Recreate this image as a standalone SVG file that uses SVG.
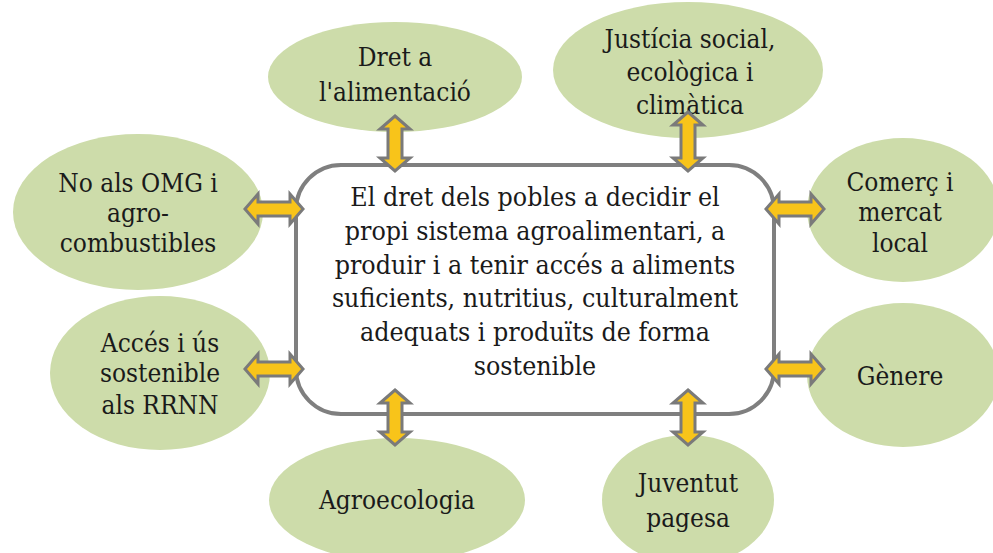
<svg xmlns="http://www.w3.org/2000/svg" width="993" height="553" viewBox="0 0 993 553">
<style>
.el{fill:#cddcaa;stroke:none}
.ctr{fill:#ffffff;stroke:#7f7f7f;stroke-width:4}
.ar{fill:#f8c41a;stroke:#7a7a7a;stroke-width:3;stroke-linejoin:miter}
.tx{fill:#1a1a1a;text-anchor:middle}
.t{font-size:26px}
.c{font-size:26.5px}
</style>
<rect width="993" height="553" fill="#ffffff"/>
<g font-family="'DejaVu Serif Condensed', 'DejaVu Serif', serif" font-stretch="condensed" class="tx">
<g id="n-dret"><ellipse class="el" cx="395" cy="77" rx="127" ry="55"/><text class="t" x="395" y="66">Dret a</text><text class="t" x="395" y="101">l'alimentació</text></g>
<g id="n-justicia"><ellipse class="el" cx="688" cy="70" rx="135" ry="68"/><text class="t" x="690" y="48">Justícia social,</text><text class="t" x="690" y="81">ecològica i</text><text class="t" x="690" y="114">climàtica</text></g>
<g id="n-omg"><ellipse class="el" cx="138" cy="212" rx="125" ry="78"/><text class="t" x="138" y="192">No als OMG i</text><text class="t" x="138" y="222">agro-</text><text class="t" x="138" y="252">combustibles</text></g>
<g id="n-comerc"><ellipse class="el" cx="903" cy="210" rx="96" ry="72"/><text class="t" x="900" y="191">Comerç i</text><text class="t" x="900" y="221">mercat</text><text class="t" x="900" y="252">local</text></g>
<g id="n-acces"><ellipse class="el" cx="160" cy="373" rx="110" ry="77"/><text class="t" x="160" y="352">Accés i ús</text><text class="t" x="160" y="382">sostenible</text><text class="t" x="160" y="414">als RRNN</text></g>
<g id="n-genere"><ellipse class="el" cx="903" cy="375" rx="96" ry="72"/><text class="t" x="900" y="385">Gènere</text></g>
<g id="n-agro"><ellipse class="el" cx="397" cy="500" rx="128" ry="62"/><text class="t" x="397" y="509">Agroecologia</text></g>
<g id="n-juventut"><ellipse class="el" cx="688" cy="500" rx="86" ry="65"/><text class="t" x="688" y="492">Juventut</text><text class="t" x="688" y="527">pagesa</text></g>
<g id="n-centre"><rect class="ctr" x="296" y="165" width="478" height="249" rx="45" ry="45"/>
<text class="c" x="535" y="206">El dret dels pobles a decidir el</text>
<text class="c" x="535" y="240">propi sistema agroalimentari, a</text>
<text class="c" x="535" y="274">produir i a tenir accés a aliments</text>
<text class="c" x="535" y="307">suficients, nutritius, culturalment</text>
<text class="c" x="535" y="341">adequats i produïts de forma</text>
<text class="c" x="535" y="375">sostenible</text>
</g>
</g>
<g id="connectors">
<polygon class="ar" points="395,116 410,129 402,129 402,158 410,158 395,171 380,158 388,158 388,129 380,129"/>
<polygon class="ar" points="688,112 703,125 695,125 695,158 703,158 688,171 673,158 681,158 681,125 673,125"/>
<polygon class="ar" points="395,390 410,403 402,403 402,432 410,432 395,445 380,432 388,432 388,403 380,403"/>
<polygon class="ar" points="688,390 703,403 695,403 695,432 703,432 688,445 673,432 681,432 681,403 673,403"/>
<polygon class="ar" points="245,209 258,194 258,202 290,202 290,194 303,209 290,224 290,216 258,216 258,224"/>
<polygon class="ar" points="245,369 258,354 258,362 290,362 290,354 303,369 290,384 290,376 258,376 258,384"/>
<polygon class="ar" points="766,209 779,194 779,202 811,202 811,194 824,209 811,224 811,216 779,216 779,224"/>
<polygon class="ar" points="766,369 779,354 779,362 811,362 811,354 824,369 811,384 811,376 779,376 779,384"/>
</g>
</svg>
